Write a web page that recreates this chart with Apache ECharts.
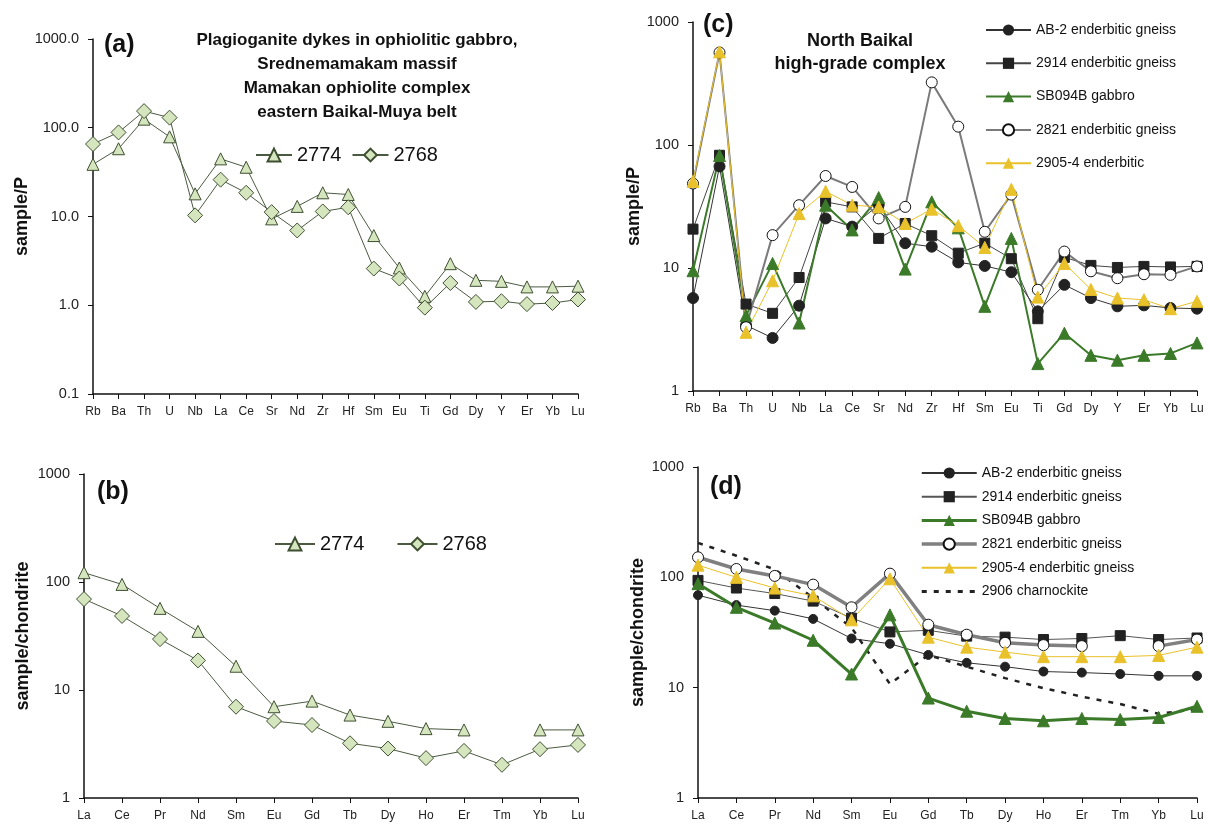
<!DOCTYPE html>
<html><head><meta charset="utf-8">
<script src="https://cdn.jsdelivr.net/npm/echarts@6/dist/echarts.min.js"></script>
<style>html,body{margin:0;padding:0;background:#fff}#c{width:1209px;height:826px}</style>
</head><body><div id="c"></div>
<script>
// ---- categories ----
const spiderElems = ['Rb','Ba','Th','U','Nb','La','Ce','Sr','Nd','Zr','Hf','Sm','Eu','Ti','Gd','Dy','Y','Er','Yb','Lu'];
const reeElems = ['La','Ce','Pr','Nd','Sm','Eu','Gd','Tb','Dy','Ho','Er','Tm','Yb','Lu'];

// ---- panel (a): sample/P ----
const a2774 = [38.7, 58, 125, 79, 18, 44.6, 35.9, 9.4, 13, 18.5, 17.7, 6.1, 2.63, 1.26, 2.94, 1.91, 1.86, 1.61, 1.61, 1.64];
const a2768 = [65.5, 88.6, 154, 130, 10.3, 26, 18.5, 11.2, 6.96, 11.4, 12.7, 2.59, 2.0, 0.94, 1.78, 1.09, 1.11, 1.03, 1.06, 1.16];

// ---- panel (b): sample/chondrite ----
const b2774 = [122, 95, 57, 34.9, 16.6, 7.0, 7.89, 5.86, 5.13, 4.39, 4.27, null, 4.27, 4.27];
const b2768 = [69.5, 48.5, 29.6, 18.8, 7.0, 5.16, 4.74, 3.21, 2.87, 2.34, 2.73, 2.03, 2.83, 3.1];

// ---- panel (c): sample/P ----
const cAB2   = [5.7, 67, 3.42, 2.7, 4.94, 25.3, 21.7, 32.6, 15.9, 14.9, 11.1, 10.4, 9.25, 4.44, 7.3, 5.7, 4.88, 4.97, 4.73, 4.67];
const c2914  = [20.7, 82.5, 5.09, 4.28, 8.37, 34.5, 31.4, 17.4, 23, 18.3, 13.2, 15.9, 11.9, 3.87, 12.2, 10.5, 10.1, 10.3, 10.2, 10.3];
const cSB094B= [9.5, 82, 4.1, 10.9, 3.57, 32.4, 20.4, 37.4, 9.8, 34.5, 21.2, 4.88, 17.4, 1.67, 2.95, 1.95, 1.78, 1.95, 2.02, 2.46];
const c2821  = [48.6, 565, 3.3, 18.5, 32.4, 56, 45.6, 25.3, 31.4, 323, 141, 19.7, 39.5, 6.65, 13.6, 9.4, 8.26, 8.9, 8.8, 10.3];
const c2905  = [50.7, 572, 3.0, 7.87, 27.7, 42, 32.4, 31.4, 23, 30.1, 22.1, 14.7, 43.6, 5.8, 10.9, 6.7, 5.7, 5.52, 4.67, 5.36];

// ---- panel (d): sample/chondrite ----
const dAB2   = [68.9, 56, 49.9, 42, 27.9, 25, 19.8, 16.8, 15.5, 14, 13.7, 13.3, 12.8, 12.8];
const d2914  = [93.8, 80, 71.3, 60.9, 42.7, 32, 33.1, 29.3, 28.7, 27.3, 27.9, 29.6, 27.3, 28.2];
const dSB094B= [87.6, 53.5, 38.5, 26.9, 13.3, 45.7, 8.05, 6.12, 5.26, 5.01, 5.26, 5.15, 5.37, 6.78];
const d2821  = [152, 119, 103, 85.9, 53.5, 108, 37.2, 30.2, 25.5, 24.3, 23.8, null, 23.8, 27.3];
const d2905  = [129, 100, 80, 68, 41.2, 97, 28.7, 23.3, 21, 19.1, 19.1, 19.1, 19.6, 23.3];
const d2906  = [205, 157, 118, 65, 35, 10.8, 19.8, 15.5, 12.2, 9.9, 8.3, 7.1, 5.8, 6.4];

const FONT = 'Liberation Sans, Arial, sans-serif';
const chart = echarts.init(document.getElementById('c'), null, {renderer:'canvas'});

function xAx(grid, cats){
  return {gridIndex:grid, type:'category', data:cats, boundaryGap:false,
    axisLine:{show:true, lineStyle:{color:'#111', width:1.5}},
    axisTick:{show:true, length:5, lineStyle:{color:'#111'}},
    axisLabel:{color:'#222', fontSize:12, margin:12, fontFamily:FONT, interval:0},
    splitLine:{show:false}};
}
function yAx(grid, min, name, gap, fmt){
  return {gridIndex:grid, type:'log', logBase:10, min:min, max:1000,
    name:name, nameLocation:'middle', nameGap:gap, nameRotate:90,
    nameTextStyle:{fontSize:18, fontWeight:'bold', color:'#111', fontFamily:FONT},
    axisLine:{show:true, lineStyle:{color:'#111', width:1.5}},
    axisTick:{show:true, length:5, lineStyle:{color:'#111'}},
    axisLabel:{color:'#222', fontSize:14.5, margin:14, fontFamily:FONT, formatter:fmt},
    splitLine:{show:false}, minorTick:{show:false}};
}
const strip = n => n.replace(/ \([a-d]\)$/, '');

const paleFill = '#d5e5be', paleBorder = '#3d4f30', paleLine = '#4a5a40';
const green = '#3b7a29', yellow = '#e9c12a';

function s(name, xi, data, o){
  return Object.assign({name:name, type:'line', xAxisIndex:xi, yAxisIndex:xi, data:data,
    connectNulls:false, animation:false, showSymbol:true}, o);
}

const series = [
  // (a)
  s('2774', 0, a2774, {symbol:'triangle', symbolSize:12, lineStyle:{color:paleLine, width:1},
     itemStyle:{color:paleFill, borderColor:paleBorder, borderWidth:1}}),
  s('2768', 0, a2768, {symbol:'diamond', symbolSize:15, lineStyle:{color:paleLine, width:1},
     itemStyle:{color:paleFill, borderColor:paleBorder, borderWidth:1}}),
  // (b)
  s('2774 (b)', 1, b2774, {symbol:'triangle', symbolSize:12, lineStyle:{color:paleLine, width:1},
     itemStyle:{color:paleFill, borderColor:paleBorder, borderWidth:1}}),
  s('2768 (b)', 1, b2768, {symbol:'diamond', symbolSize:15, lineStyle:{color:paleLine, width:1},
     itemStyle:{color:paleFill, borderColor:paleBorder, borderWidth:1}}),
  // (c)
  s('AB-2 enderbitic gneiss', 2, cAB2, {symbol:'circle', symbolSize:11, lineStyle:{color:'#333', width:1},
     itemStyle:{color:'#222', borderColor:'#222'}}),
  s('2914 enderbitic gneiss', 2, c2914, {symbol:'rect', symbolSize:10, lineStyle:{color:'#444', width:1},
     itemStyle:{color:'#222', borderColor:'#222'}}),
  s('SB094B gabbro', 2, cSB094B, {symbol:'triangle', symbolSize:12, lineStyle:{color:green, width:2},
     itemStyle:{color:green, borderColor:green}}),
  s('2821 enderbitic gneiss', 2, c2821, {symbol:'circle', symbolSize:11, lineStyle:{color:'#7a7a7a', width:2},
     itemStyle:{color:'#fff', borderColor:'#111', borderWidth:1}}),
  s('2905-4 enderbitic', 2, c2905, {symbol:'triangle', symbolSize:12, lineStyle:{color:yellow, width:1},
     itemStyle:{color:yellow, borderColor:yellow}}),
  // (d)
  s('AB-2 enderbitic gneiss (d)', 3, dAB2, {symbol:'circle', symbolSize:9, lineStyle:{color:'#333', width:1},
     itemStyle:{color:'#222', borderColor:'#222'}}),
  s('2914 enderbitic gneiss (d)', 3, d2914, {symbol:'rect', symbolSize:10, lineStyle:{color:'#555', width:1},
     itemStyle:{color:'#222', borderColor:'#222'}}),
  s('SB094B gabbro (d)', 3, dSB094B, {symbol:'triangle', symbolSize:12, lineStyle:{color:green, width:3},
     itemStyle:{color:green, borderColor:green}}),
  s('2821 enderbitic gneiss (d)', 3, d2821, {symbol:'circle', symbolSize:11, lineStyle:{color:'#808080', width:3.5},
     itemStyle:{color:'#fff', borderColor:'#111', borderWidth:1}}),
  s('2905-4 enderbitic gneiss (d)', 3, d2905, {symbol:'triangle', symbolSize:12, lineStyle:{color:yellow, width:1},
     itemStyle:{color:yellow, borderColor:yellow}}),
  s('2906 charnockite (d)', 3, d2906, {symbol:'none', showSymbol:false, lineStyle:{color:'#222', width:2.5, type:[5,7]},
     itemStyle:{color:'#222'}, z:1})
];

const lg = (o) => Object.assign({formatter:strip, selectedMode:false,
  textStyle:{color:'#111', fontFamily:FONT}}, o);

chart.setOption({
  animation:false,
  grid:[
    {left:93, top:39, width:485, height:355},
    {left:84, top:474, width:494, height:324},
    {left:693, top:22, width:504, height:369},
    {left:698, top:467, width:499, height:331}
  ],
  xAxis:[xAx(0, spiderElems), xAx(1, reeElems), xAx(2, spiderElems), xAx(3, reeElems)],
  yAxis:[
    yAx(0, 0.1, 'sample/P', 61, v => Number(v).toFixed(1)),
    yAx(1, 1, 'sample/chondrite', 52, v => String(Math.round(v))),
    yAx(2, 1, 'sample/P', 48, v => String(Math.round(v))),
    yAx(3, 1, 'sample/chondrite', 51, v => String(Math.round(v)))
  ],
  title:[
    {text:'(a)', left:99, top:28, textStyle:{fontSize:25, fontWeight:'bold', color:'#111', fontFamily:FONT}},
    {text:'(b)', left:92, top:475, textStyle:{fontSize:25, fontWeight:'bold', color:'#111', fontFamily:FONT}},
    {text:'(c)', left:698, top:8, textStyle:{fontSize:25, fontWeight:'bold', color:'#111', fontFamily:FONT}},
    {text:'(d)', left:705, top:470, textStyle:{fontSize:25, fontWeight:'bold', color:'#111', fontFamily:FONT}},
    {text:'Plagioganite dykes in ophiolitic gabbro,\nSrednemamakam massif\nMamakan ophiolite complex\neastern Baikal-Muya belt',
     left:352, top:23, textAlign:'center',
     textStyle:{fontSize:17, fontWeight:'bold', color:'#111', lineHeight:24, fontFamily:FONT, align:'center'}},
    {text:'North Baikal\nhigh-grade complex', left:855, top:25, textAlign:'center',
     textStyle:{fontSize:18, fontWeight:'bold', color:'#111', lineHeight:23, fontFamily:FONT, align:'center'}}
  ],
  legend:[
    lg({data:['2774','2768'], left:250, top:140, itemWidth:36, itemHeight:16, itemGap:10,
        textStyle:{fontSize:20, color:'#111', fontFamily:FONT}}),
    lg({data:['2774 (b)','2768 (b)'], left:269, top:529, itemWidth:40, itemHeight:16, itemGap:32,
        textStyle:{fontSize:20, color:'#111', fontFamily:FONT}}),
    lg({data:['AB-2 enderbitic gneiss','2914 enderbitic gneiss',
              {name:'SB094B gabbro', lineStyle:{width:2}},
              {name:'2821 enderbitic gneiss', lineStyle:{width:2}},
              '2905-4 enderbitic'],
        orient:'vertical', left:980, top:18, itemWidth:45, itemHeight:14, itemGap:19.3,
        textStyle:{fontSize:14, color:'#111', fontFamily:FONT}}),
    lg({data:['AB-2 enderbitic gneiss (d)','2914 enderbitic gneiss (d)',
              {name:'SB094B gabbro (d)', lineStyle:{width:3}},
              {name:'2821 enderbitic gneiss (d)', lineStyle:{width:3.5}},
              '2905-4 enderbitic gneiss (d)',
              {name:'2906 charnockite (d)', itemStyle:{opacity:0}, lineStyle:{width:3}}],
        orient:'vertical', left:915, top:461, itemWidth:55, itemHeight:14, itemGap:9.7,
        textStyle:{fontSize:14, color:'#111', fontFamily:FONT}})
  ],
  series:series
});
</script></body></html>
